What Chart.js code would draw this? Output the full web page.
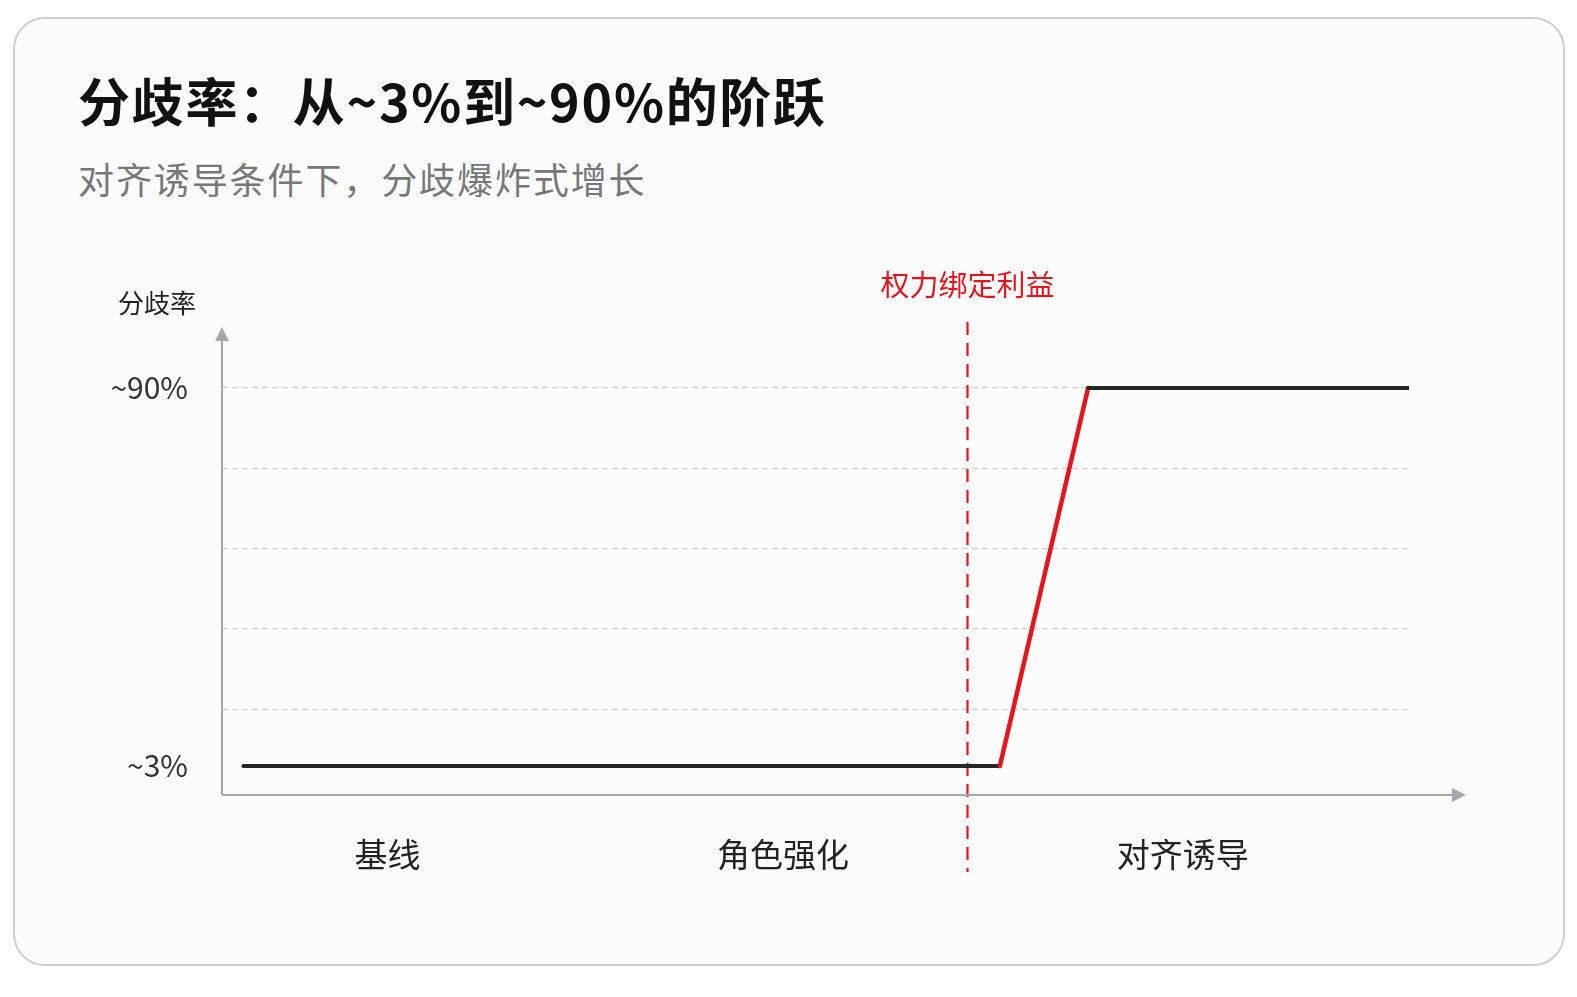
<!DOCTYPE html>
<html lang="zh-CN">
<head>
<meta charset="utf-8">
<title>分歧率：从~3%到~90%的阶跃</title>
<script src="https://cdn.jsdelivr.net/npm/chart.js@4.4.1/dist/chart.umd.min.js"></script>
<style>
  html, body { margin: 0; padding: 0; background: #ffffff; }
  body { width: 1577px; height: 997px; position: relative; overflow: hidden;
         font-family: "Noto Sans CJK SC", "Noto Sans", sans-serif; }
  .card { position: absolute; left: 13px; top: 17px; width: 1552px; height: 949px;
          box-sizing: border-box; border: 2px solid #cfcfcf; border-radius: 32px; background: #fcfcfc; }
  .title { position: absolute; left: 78px; top: 74px; margin: 0; font-size: 52px; line-height: 52px;
           font-weight: 700; color: #111; letter-spacing: 1.7px; white-space: nowrap; }
  .subtitle { position: absolute; left: 78px; top: 160px; margin: 0; font-size: 36px; line-height: 36px;
              font-weight: 400; color: #777; letter-spacing: 1.9px; white-space: nowrap; }
  #chart { position: absolute; left: 0; top: 0; }
</style>
</head>
<body>
<div class="card"></div>
<h1 class="title">分歧率：从~3%到~90%的阶跃</h1>
<p class="subtitle">对齐诱导条件下，分歧爆炸式增长</p>
<canvas id="chart" width="1577" height="997"></canvas>
<script>
// stages along the x axis
const stageLabels = ['基线', '角色强化', '对齐诱导'];
const stagePositions = [0.418, 1.418, 2.428];

// divergence rate (%) — flat, jump, flat
const lineX = [0.054, 1.966, 2.189, 3.0];
const lineY = [3, 3, 90, 90];
const jumpIndex = 1; // segment from point 1 to point 2 is the jump

// y axis: labelled ticks and plain dashed grid levels
const yLabelTicks = [3, 90];
const yTickText = ['~3%', '~90%'];
const yGridLevels = [16.08, 34.56, 53.04, 71.52];

// marker for where power binds to interest
const dividerX = 1.883;
const dividerLabel = '权力绑定利益';
const yAxisTitle = '分歧率';

const RED = '#e8141c';
const INK = '#262626';
const AXIS = '#a6a6ae';
const FONT = '"Noto Sans CJK SC", "Noto Sans", sans-serif';

Chart.defaults.font.family = FONT;

const axesPlugin = {
  id: 'axesAndMarker',
  beforeDatasetsDraw(chart) {
    const { ctx, chartArea: a, scales: { x } } = chart;
    ctx.save();
    // divider
    const dx = Math.round(x.getPixelForValue(dividerX)) + 0.5;
    ctx.strokeStyle = RED;
    ctx.lineWidth = 2.2;
    ctx.setLineDash([13, 8]);
    ctx.beginPath();
    ctx.moveTo(dx, a.top - 5);
    ctx.lineTo(dx, a.bottom + 77);
    ctx.stroke();
    ctx.setLineDash([]);

    // axes with arrow heads
    ctx.strokeStyle = AXIS;
    ctx.fillStyle = AXIS;
    ctx.lineWidth = 2;
    ctx.beginPath();
    ctx.moveTo(a.left, a.bottom);
    ctx.lineTo(a.left, a.top + 12);
    ctx.moveTo(a.left, a.bottom);
    ctx.lineTo(a.right + 44, a.bottom);
    ctx.stroke();
    ctx.beginPath();
    ctx.moveTo(a.left, a.top);
    ctx.lineTo(a.left - 7, a.top + 14);
    ctx.lineTo(a.left + 7, a.top + 14);
    ctx.closePath();
    ctx.fill();
    ctx.beginPath();
    ctx.moveTo(a.right + 57, a.bottom);
    ctx.lineTo(a.right + 43, a.bottom - 7);
    ctx.lineTo(a.right + 43, a.bottom + 7);
    ctx.closePath();
    ctx.fill();

    // texts
    ctx.textAlign = 'center';
    ctx.textBaseline = 'middle';
    ctx.fillStyle = RED;
    ctx.font = '29px ' + FONT;
    ctx.fillText(dividerLabel, dx, a.top - 42);
    ctx.fillStyle = '#222';
    ctx.font = '26px ' + FONT;
    ctx.fillText(yAxisTitle, a.left - 65, a.top - 24);
    ctx.restore();
  }
};

new Chart(document.getElementById('chart'), {
  type: 'line',
  data: {
    datasets: [{
      label: '分歧率',
      data: lineX.map((v, i) => ({ x: v, y: lineY[i] })),
      borderColor: INK,
      borderWidth: 4,
      borderCapStyle: 'round',
      borderJoinStyle: 'miter',
      pointRadius: 0,
      tension: 0,
      segment: {
        borderColor: c => c.p0DataIndex === jumpIndex ? RED : INK,
        borderWidth: c => c.p0DataIndex === jumpIndex ? 4.5 : 4,
      },
    }],
  },
  plugins: [axesPlugin],
  options: {
    responsive: false,
    animation: false,
    layout: { padding: { left: 22, right: 168, top: 327, bottom: 82 } },
    plugins: { legend: { display: false }, tooltip: { enabled: false } },
    scales: {
      x: {
        type: 'linear',
        min: 0,
        max: 3,
        afterBuildTicks: s => { s.ticks = stagePositions.map(v => ({ value: v })); },
        afterFit: s => { s.height = 120; },
        ticks: {
          callback: (v, i) => stageLabels[i],
          font: { size: 33 },
          color: '#222',
          padding: 40,
          maxRotation: 0,
          autoSkip: false,
        },
        grid: { display: false, drawTicks: false },
        border: { display: false },
      },
      y: {
        min: -3.67,
        max: 104.04,
        afterBuildTicks: s => {
          s.ticks = [...yLabelTicks, ...yGridLevels].sort((p, q) => p - q).map(v => ({ value: v }));
        },
        afterFit: s => { s.width = 200; },
        ticks: {
          callback: v => {
            const i = yLabelTicks.indexOf(v);
            return i >= 0 ? yTickText[i] : '';
          },
          font: { size: 30 },
          color: '#333',
          padding: 34,
          autoSkip: false,
        },
        grid: {
          color: c => (c.tick && c.tick.value === yLabelTicks[0]) ? 'rgba(0,0,0,0)' : '#d2d2d2',
          lineWidth: 1.2,
          drawTicks: false,
        },
        border: { display: false, dash: [6, 4] },
      },
    },
  },
});
</script>
</body>
</html>
